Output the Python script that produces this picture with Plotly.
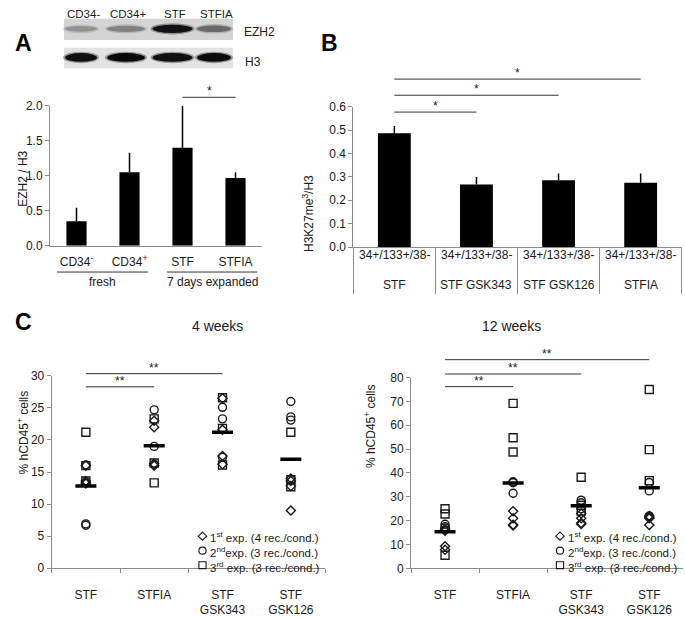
import plotly.graph_objects as go

W, H = 685, 617
FONT = "Liberation Sans, Arial, sans-serif"

# ---------------- DATA ----------------
# Panel A - western blot (relative band intensities)
blot_lanes = ["CD34-", "CD34+", "STF", "STFIA"]
ezh2_band_intensity = [0.38, 0.45, 0.92, 0.55]
h3_band_intensity = [0.93, 0.96, 0.93, 0.95]

# Panel A - bar chart
a_categories = ["CD34<sup>-</sup>", "CD34<sup>+</sup>", "STF", "STFIA"]
a_values = [0.35, 1.05, 1.40, 0.97]
a_err = [0.195, 0.28, 0.60, 0.08]
a_ticks = [0.0, 0.5, 1.0, 1.5, 2.0]
a_groups = ["fresh", "7 days expanded"]
a_group_span = [(-0.37, 1.35), (1.71, 3.41)]
a_sig = [(2, 3, 2.12, "*")]

# Panel B
b_row1 = "34+/133+/38-"
b_categories = ["STF", "STF GSK343", "STF GSK126", "STFIA"]
b_values = [0.487, 0.267, 0.286, 0.275]
b_err = [0.030, 0.033, 0.028, 0.039]
b_ticks = [0.0, 0.1, 0.2, 0.3, 0.4, 0.5, 0.6]
b_sig = [(0, 1, 0.577, "*"), (0, 2, 0.649, "*"), (0, 3, 0.718, "*")]

# Panel C
c_categories = ["STF", "STFIA", "STF<br>GSK343", "STF<br>GSK126"]
w4_exp1 = [[16.0, 13.6, 13.4, 13.2], [23.0, 22.0, 16.0, 16.3], [26.5, 21.6, 17.5, 16.2], [14.0, 13.6, 12.8, 9.0]]
w4_exp2 = [[16.1, 6.9, 6.7], [24.7, 19.0, 16.2], [25.1, 23.3, 17.3], [26.0, 23.6, 23.1]]
w4_exp3 = [[21.2, 16.0, 13.6], [23.3, 16.4, 13.3], [26.6, 21.8, 16.1], [21.2, 13.8, 12.7]]
w4_mean = [12.8, 19.1, 21.2, 17.0]
w4_sig = [(0, 1, 28.3, "**"), (0, 2, 30.35, "**")]

w12_exp1 = [[16.5, 9.3, 7.8, 15.8], [24.0, 21.0, 18.0, 18.3], [23.0, 21.0, 19.0, 18.6], [22.0, 21.5, 21.0, 18.2]]
w12_exp2 = [[18.5, 17.5, 17.0], [35.9, 31.5, 36.3], [28.6, 27.5, 25.0], [36.0, 32.5, 22.0]]
w12_exp3 = [[25.0, 22.8, 5.5], [69.2, 54.8, 48.8], [38.2, 26.5, 24.0], [75.0, 49.8, 36.8]]
w12_mean = [15.4, 35.8, 26.3, 33.8]
w12_sig = [(0, 1, 76.2, "**"), (0, 2, 81.5, "**"), (0, 3, 87.5, "**")]

legend_labels = ["1<sup>st</sup> exp. (4 rec./cond.)",
                 "2<sup>nd</sup>exp. (3 rec./cond.)",
                 "3<sup>rd</sup> exp. (3 rec./cond.)"]

# ---------------- LAYOUT GEOMETRY (pixels) ----------------
AX = {
    "A": dict(x=(50, 262), y=(101.7, 246), r=(0, 2.0)),
    "B": dict(x=(353.3, 681.7), y=(102.7, 247.3), r=(0, 0.6)),
    "C1": dict(x=(51.7, 325), y=(380, 578), r=(0, 30)),
    "C2": dict(x=(411, 683.3), y=(381.7, 578.3), r=(0, 80)),
}


def xdom(k):
    return [AX[k]["x"][0] / W, AX[k]["x"][1] / W]


def ydom(k):
    return [1 - AX[k]["y"][1] / H, 1 - AX[k]["y"][0] / H]


def cx(k, pos):
    x0, x1 = AX[k]["x"]
    return (x0 + (pos + 0.5) / 4 * (x1 - x0)) / W


def vy(k, v):
    top, bot = AX[k]["y"]
    r0, r1 = AX[k]["r"]
    return 1 - (bot - (v - r0) / (r1 - r0) * (bot - top)) / H


def px(x):
    return x / W


def py(y):
    return 1 - y / H


fig = go.Figure()
shapes = []
ann = []
LINE = "#8c8c8c"
TXT = "#1a1a1a"

# ---------------- Panel A blot ----------------
shapes.append(dict(type="rect", xref="paper", yref="paper", x0=px(64), x1=px(233), y0=py(34), y1=py(12),
                   fillcolor="#d4d4d4", line=dict(width=0), layer="below"))
shapes.append(dict(type="rect", xref="paper", yref="paper", x0=px(64), x1=px(233), y0=py(63), y1=py(42),
                   fillcolor="#e2e2e2", line=dict(width=0), layer="below"))
lane_c = [81, 126, 172.5, 214]
lane_w = [32, 38, 40, 34]
for i, lab in enumerate(blot_lanes):
    ann.append(dict(x=px(lane_c[i] + 2), y=py(7), xref="paper", yref="paper", text=lab, showarrow=False,
                    font=dict(size=11.5, color=TXT), xanchor="center", yanchor="middle"))
    bands = [(ezh2_band_intensity[i], 22.5, 4 + 5 * ezh2_band_intensity[i]), (h3_band_intensity[i], 52, 9)]
    for intens, yc, hgt in bands:
        g = int(235 * (1 - intens))
        col = "rgb(%d,%d,%d)" % (g, g, g)
        shapes.append(dict(type="circle", xref="paper", yref="paper",
                           x0=px(lane_c[i] - lane_w[i] / 2 - 2), x1=px(lane_c[i] + lane_w[i] / 2 + 2),
                           y0=py(yc + hgt / 2 + 1.5), y1=py(yc - hgt / 2 - 1.5),
                           fillcolor=col, opacity=0.35, line=dict(width=0)))
        shapes.append(dict(type="circle", xref="paper", yref="paper",
                           x0=px(lane_c[i] - lane_w[i] / 2), x1=px(lane_c[i] + lane_w[i] / 2),
                           y0=py(yc + hgt / 2), y1=py(yc - hgt / 2),
                           fillcolor=col, line=dict(width=0)))
ann.append(dict(x=px(242), y=py(26), xref="paper", yref="paper", text="EZH2", showarrow=False,
                font=dict(size=12, color=TXT), xanchor="left", yanchor="middle"))
ann.append(dict(x=px(243), y=py(57), xref="paper", yref="paper", text="H3", showarrow=False,
                font=dict(size=12, color=TXT), xanchor="left", yanchor="middle"))

# ---------------- Panel A bars ----------------
fig.add_trace(go.Bar(x=a_categories, y=a_values, width=0.38, marker=dict(color="black", line=dict(width=0)),
                     error_y=dict(type="data", array=a_err, arrayminus=[0] * 4, symmetric=False,
                                  width=0, thickness=1.5, color="black"),
                     xaxis="x", yaxis="y"))
for (g0, g1), lab in zip(a_group_span, a_groups):
    shapes.append(dict(type="line", xref="paper", yref="paper", x0=cx("A", g0), x1=cx("A", g1),
                       y0=py(273), y1=py(273), line=dict(color="#333", width=1)))
    ann.append(dict(x=(cx("A", g0) + cx("A", g1)) / 2, y=py(283.5), xref="paper", yref="paper", text=lab,
                    showarrow=False, font=dict(size=12, color=TXT), xanchor="center", yanchor="middle"))

# ---------------- Panel B bars ----------------
fig.add_trace(go.Bar(x=b_categories, y=b_values, width=0.40, marker=dict(color="black", line=dict(width=0)),
                     error_y=dict(type="data", array=b_err, arrayminus=[0] * 4, symmetric=False,
                                  width=0, thickness=1.5, color="black"),
                     xaxis="x2", yaxis="y2"))
for i, lab in enumerate(b_categories):
    ann.append(dict(x=cx("B", i), y=py(255.5), xref="paper", yref="paper", text=b_row1, showarrow=False,
                    font=dict(size=12, color=TXT), xanchor="center", yanchor="middle"))
    ann.append(dict(x=cx("B", i), y=py(286.5), xref="paper", yref="paper", text=lab, showarrow=False,
                    font=dict(size=12, color=TXT), xanchor="center", yanchor="middle"))

# ---------------- Panel C scatter ----------------
sym = ["diamond-open", "circle-open", "square-open"]
sizes = [7, 8, 8]
for (ex1, ex2, ex3, mean, xa, ya) in [(w4_exp1, w4_exp2, w4_exp3, w4_mean, "x3", "y3"),
                                      (w12_exp1, w12_exp2, w12_exp3, w12_mean, "x4", "y4")]:
    for s, sz, exp in zip(sym, sizes, [ex1, ex2, ex3]):
        xs, ys = [], []
        for i, cat in enumerate(c_categories):
            for v in exp[i]:
                xs.append(cat)
                ys.append(v)
        fig.add_trace(go.Scatter(x=xs, y=ys, mode="markers", xaxis=xa, yaxis=ya,
                                 marker=dict(symbol=s, size=sz, color="#1a1a1a",
                                             line=dict(width=1.4, color="#1a1a1a"))))
    fig.add_trace(go.Scatter(x=c_categories, y=mean, mode="markers", xaxis=xa, yaxis=ya,
                             marker=dict(symbol="line-ew", size=15, color="black",
                                         line=dict(width=3.5, color="black"))))

# significance brackets
for k, sig in [("A", a_sig), ("B", b_sig), ("C1", w4_sig), ("C2", w12_sig)]:
    for i0, i1, lvl, star in sig:
        yy = vy(k, lvl)
        shapes.append(dict(type="line", xref="paper", yref="paper", x0=cx(k, i0), x1=cx(k, i1),
                           y0=yy, y1=yy, line=dict(color="#333", width=1)))
        ann.append(dict(x=(cx(k, i0) + cx(k, i1)) / 2, y=yy, xref="paper", yref="paper", text=star,
                        showarrow=False, font=dict(size=12, color=TXT), xanchor="center", yanchor="bottom",
                        yshift=-3))

# legends in panel C (marker swatches as shapes + one multi-line label)
LEG_FS = 11.5
LEG_LH = LEG_FS * 1.3
for lx in [202.5, 560]:
    ymid = 560
    for j in range(3):
        yc = ymid + (j - 1) * LEG_LH
        r = 3.6
        if j == 0:
            path = "M %f %f L %f %f L %f %f L %f %f Z" % (px(lx - r - 0.6), py(yc), px(lx), py(yc - r - 0.6),
                                                         px(lx + r + 0.6), py(yc), px(lx), py(yc + r + 0.6))
            shapes.append(dict(type="path", xref="paper", yref="paper", path=path,
                               line=dict(color=TXT, width=1.1)))
        elif j == 1:
            shapes.append(dict(type="circle", xref="paper", yref="paper", x0=px(lx - r), x1=px(lx + r),
                               y0=py(yc + r), y1=py(yc - r), line=dict(color=TXT, width=1.1)))
        else:
            shapes.append(dict(type="rect", xref="paper", yref="paper", x0=px(lx - r), x1=px(lx + r),
                               y0=py(yc + r), y1=py(yc - r), line=dict(color=TXT, width=1.1)))
    ann.append(dict(x=px(lx + 5.5), y=py(ymid + 1), xref="paper", yref="paper", text="<br>".join(legend_labels),
                    align="left", showarrow=False, font=dict(size=LEG_FS, color=TXT),
                    xanchor="left", yanchor="middle"))

# titles & axis titles
ann += [
    dict(x=px(13), y=py(22), text="<b>A</b>", font=dict(size=23, color="black")),
    dict(x=px(329), y=py(22), text="<b>B</b>", font=dict(size=23, color="black")),
    dict(x=px(13), y=py(324), text="<b>C</b>", font=dict(size=23, color="black")),
    dict(x=px(190), y=py(329), text="4 weeks", font=dict(size=14, color=TXT)),
    dict(x=px(543), y=py(329), text="12 weeks", font=dict(size=14, color=TXT)),
    dict(x=px(14), y=py(146), text="EZH2 / H3", textangle=-90, font=dict(size=12, color=TXT)),
    dict(x=px(308), y=py(171.5), text="H3K27me<sup>3</sup>/H3", textangle=-90, font=dict(size=12, color=TXT)),
    dict(x=px(13), y=py(483.5), text="% hCD45<sup>+</sup> cells", textangle=-90, font=dict(size=12, color=TXT)),
    dict(x=px(370), y=py(477), text="% hCD45<sup>+</sup> cells", textangle=-90, font=dict(size=12, color=TXT)),
]
for a in ann:
    a.setdefault("xref", "paper")
    a.setdefault("yref", "paper")
    a.setdefault("showarrow", False)

common_y = dict(showgrid=False, zeroline=False, showline=True, linecolor=LINE, linewidth=1,
                ticks="outside", ticklen=4, tickcolor=LINE, tickfont=dict(size=12, color=TXT))
common_x = dict(showgrid=False, zeroline=False, showline=True, linecolor=LINE, linewidth=1,
                type="category", range=[-0.5, 3.5], tickfont=dict(size=12, color=TXT))

fig.update_layout(
    width=W, height=H, margin=dict(l=0, r=0, t=0, b=0),
    plot_bgcolor="white", paper_bgcolor="white", showlegend=False,
    font=dict(family=FONT, size=12, color=TXT),
    shapes=shapes, annotations=ann,
    xaxis=dict(common_x, domain=xdom("A"), anchor="y", ticks="", ticklabelstandoff=5),
    yaxis=dict(common_y, domain=ydom("A"), anchor="x", range=list(AX["A"]["r"]), tickvals=a_ticks,
               tickformat=".1f"),
    xaxis2=dict(common_x, domain=xdom("B"), anchor="y2", ticks="outside", tickson="boundaries",
                ticklen=46, tickcolor=LINE, showticklabels=False),
    yaxis2=dict(common_y, domain=ydom("B"), anchor="x2", range=list(AX["B"]["r"]), tickvals=b_ticks,
                tickformat=".1f"),
    xaxis3=dict(common_x, domain=xdom("C1"), anchor="y3", ticks="outside", tickson="boundaries",
                ticklen=4, tickcolor=LINE, ticklabelstandoff=15),
    yaxis3=dict(common_y, domain=ydom("C1"), anchor="x3", range=list(AX["C1"]["r"]), dtick=5),
    xaxis4=dict(common_x, domain=xdom("C2"), anchor="y4", ticks="outside", tickson="boundaries",
                ticklen=4, tickcolor=LINE, ticklabelstandoff=15),
    yaxis4=dict(common_y, domain=ydom("C2"), anchor="x4", range=list(AX["C2"]["r"]), dtick=10),
)

fig.write_html("out.html", config={"displayModeBar": False},
               post_script="document.body.style.margin='0';")
